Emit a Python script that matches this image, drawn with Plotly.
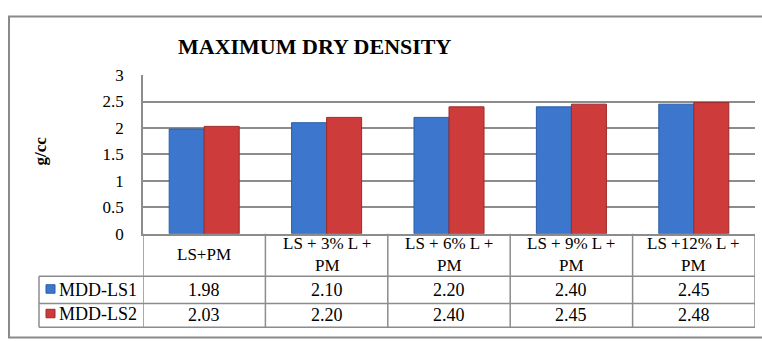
import plotly.graph_objects as go

categories = ["LS+PM", "LS + 3% L +<br>PM", "LS + 6% L +<br>PM", "LS + 9% L +<br>PM", "LS +12% L +<br>PM"]
series_names = ["MDD-LS1", "MDD-LS2"]
mdd_ls1 = [1.98, 2.10, 2.20, 2.40, 2.45]
mdd_ls2 = [2.03, 2.20, 2.40, 2.45, 2.48]
y_ticks = [0, 0.5, 1, 1.5, 2, 2.5, 3]
y_tick_labels = ["0", "0.5", "1", "1.5", "2", "2.5", "3"]
title_text = "MAXIMUM DRY DENSITY"
y_title = "g/cc"

W, H = 762, 341
FONT = "Liberation Serif"
GRID = "#8c8c8c"
BLUE, BLUE_EDGE = "#3c77cd", "#2b5da6"
RED, RED_EDGE = "#cd3b3b", "#9c2b2b"


def px(x):
    return x / W


def py(y):
    return 1 - y / H


# plot area in pixels
PL, PR, PT, PB = 143, 755, 70, 238
# table rows in pixels
ROW_HDR_BOT, ROW1_BOT, ROW2_BOT = 283, 312, 337
TABLE_LEFT = 39

n = len(categories)
xs = list(range(n))

fig = go.Figure()
fig.add_trace(go.Bar(x=xs, y=mdd_ls1, name=series_names[0],
                     marker=dict(color=BLUE, line=dict(color=BLUE_EDGE, width=1))))
fig.add_trace(go.Bar(x=xs, y=mdd_ls2, name=series_names[1],
                     marker=dict(color=RED, line=dict(color=RED_EDGE, width=1))))

shapes = []
annotations = []

# outer chart border (clipped on right/bottom)
shapes.append(dict(type="rect", xref="paper", yref="paper",
                   x0=px(9), x1=1.02, y0=-0.02, y1=py(8),
                   line=dict(color="#8a8a8a", width=2)))

# table horizontal lines
for yy in [ROW_HDR_BOT, ROW1_BOT, ROW2_BOT]:
    shapes.append(dict(type="line", xref="paper", yref="paper",
                       x0=px(TABLE_LEFT), x1=px(PR), y0=py(yy), y1=py(yy),
                       line=dict(color=GRID, width=1.5)))
# table vertical lines at category boundaries
for i in range(n + 1):
    shapes.append(dict(type="line", xref="x", yref="paper",
                       x0=i - 0.5, x1=i - 0.5, y0=py(ROW2_BOT), y1=py(PB),
                       line=dict(color=GRID, width=1.5)))
# left border of legend cells
shapes.append(dict(type="line", xref="paper", yref="paper",
                   x0=px(TABLE_LEFT), x1=px(TABLE_LEFT), y0=py(ROW2_BOT), y1=py(ROW_HDR_BOT),
                   line=dict(color=GRID, width=1.5)))

hdr_c = (PB + ROW_HDR_BOT) / 2
r1_c = (ROW_HDR_BOT + ROW1_BOT) / 2
r2_c = (ROW1_BOT + ROW2_BOT) / 2
for i, cat in enumerate(categories):
    annotations.append(dict(x=i, y=py(hdr_c), xref="x", yref="paper", text=cat,
                            showarrow=False, font=dict(family=FONT, size=17, color="#000"),
                            xanchor="center", yanchor="middle", align="center"))
    annotations.append(dict(x=i, y=py(r1_c), xref="x", yref="paper", text=f"{mdd_ls1[i]:.2f}",
                            showarrow=False, font=dict(family=FONT, size=18, color="#000"),
                            xanchor="center", yanchor="middle"))
    annotations.append(dict(x=i, y=py(r2_c), xref="x", yref="paper", text=f"{mdd_ls2[i]:.2f}",
                            showarrow=False, font=dict(family=FONT, size=18, color="#000"),
                            xanchor="center", yanchor="middle"))

for name, col, edge, yc in [(series_names[0], BLUE, BLUE_EDGE, r1_c - 1),
                            (series_names[1], RED, RED_EDGE, r2_c - 2)]:
    shapes.append(dict(type="rect", xref="paper", yref="paper",
                       x0=px(46), x1=px(55), y0=py(yc + 4.5), y1=py(yc - 4.5),
                       fillcolor=col, line=dict(color=edge, width=1)))
    annotations.append(dict(x=px(57), y=py(yc + 1), xref="paper", yref="paper", text=name,
                            showarrow=False, font=dict(family=FONT, size=18, color="#000"),
                            xanchor="left", yanchor="middle"))

annotations.append(dict(x=px(315), y=py(40), xref="paper", yref="paper",
                        text=f"<b>{title_text}</b>", showarrow=False,
                        font=dict(family=FONT, size=22, color="#000"),
                        xanchor="center", yanchor="middle"))
annotations.append(dict(x=px(41), y=py(151), xref="paper", yref="paper",
                        text=f"<b>{y_title}</b>", showarrow=False, textangle=-90,
                        font=dict(family=FONT, size=17, color="#000"),
                        xanchor="center", yanchor="middle"))

fig.update_layout(
    width=W, height=H,
    margin=dict(l=0, r=0, t=0, b=0),
    paper_bgcolor="white", plot_bgcolor="white",
    showlegend=False,
    font=dict(family=FONT),
    barmode="group", bargap=0.428, bargroupgap=0,
    xaxis=dict(domain=[px(PL), px(PR)], range=[-0.5, n - 0.5], showticklabels=False,
               showgrid=False, zeroline=False, showline=True, linecolor=GRID, linewidth=1.5,
               ticks=""),
    yaxis=dict(domain=[py(PB), py(PT)], range=[0, 3], tickvals=y_ticks, ticktext=y_tick_labels,
               showgrid=True, gridcolor=GRID, gridwidth=1.5, zeroline=False,
               showline=True, linecolor=GRID, linewidth=1.5, ticks="", ticklabelstandoff=14,
               tickfont=dict(family=FONT, size=17, color="#000")),
    shapes=shapes, annotations=annotations,
)

fig.write_html("out.html", config={"displayModeBar": False},
               post_script="document.body.style.margin='0';document.body.style.overflow='hidden';")
